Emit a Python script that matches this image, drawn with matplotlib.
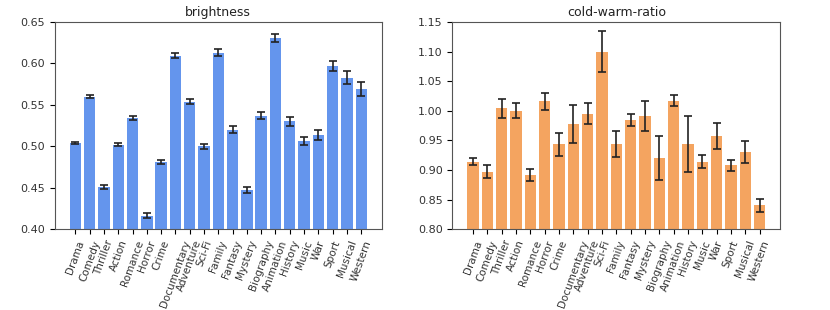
import matplotlib
matplotlib.use("Agg")
import matplotlib.pyplot as plt
import numpy as np

genres = ["Drama", "Comedy", "Thriller", "Action", "Romance", "Horror", "Crime",
          "Documentary", "Adventure", "Sci-Fi", "Family", "Fantasy", "Mystery",
          "Biography", "Animation", "History", "Music", "War", "Sport", "Musical", "Western"]

brightness = [0.504, 0.560, 0.451, 0.502, 0.534, 0.416, 0.481, 0.609, 0.554, 0.500,
              0.613, 0.520, 0.447, 0.537, 0.631, 0.530, 0.506, 0.514, 0.597, 0.583, 0.569]
brightness_err = [0.001, 0.0015, 0.002, 0.002, 0.002, 0.003, 0.003, 0.003, 0.003, 0.003,
                  0.004, 0.004, 0.004, 0.004, 0.005, 0.005, 0.005, 0.006, 0.006, 0.008, 0.008]

cwr = [0.914, 0.897, 1.004, 1.000, 0.891, 1.016, 0.943, 0.978, 0.995, 1.100,
       0.944, 0.984, 0.991, 0.920, 1.017, 0.944, 0.914, 0.957, 0.908, 0.930, 0.840]
cwr_err = [0.006, 0.011, 0.016, 0.013, 0.010, 0.014, 0.020, 0.032, 0.018, 0.035,
           0.022, 0.010, 0.025, 0.037, 0.009, 0.047, 0.011, 0.022, 0.009, 0.019, 0.011]

fig = plt.figure(figsize=(8.3, 3.1), dpi=100)
ax1 = fig.add_axes([0.066, 0.261, 0.394, 0.668])
ax2 = fig.add_axes([0.545, 0.261, 0.395, 0.668])

x = np.arange(len(genres))
for ax, vals, errs, color, title, ylim, ticks in [
    (ax1, brightness, brightness_err, "cornflowerblue", "brightness", (0.40, 0.65),
     [0.40, 0.45, 0.50, 0.55, 0.60, 0.65]),
    (ax2, cwr, cwr_err, "sandybrown", "cold-warm-ratio", (0.80, 1.15),
     [0.80, 0.85, 0.90, 0.95, 1.00, 1.05, 1.10, 1.15]),
]:
    ax.bar(x, vals, yerr=errs, color=color, capsize=3, width=0.8,
           error_kw=dict(ecolor="#222222", elinewidth=1.2, capthick=1.2))
    ax.set_ylim(*ylim)
    ax.set_yticks(ticks)
    ax.set_yticklabels([f"{t:.2f}" for t in ticks], fontsize=8, color="#333333")
    ax.set_xticks(x)
    ax.set_xticklabels(genres, rotation=70, fontsize=7.5, color="#333333")
    ax.set_title(title, fontsize=9, color="#222222", pad=4)
    for s in ax.spines.values():
        s.set_color("#555555")

fig.savefig("out.png", dpi=100)
